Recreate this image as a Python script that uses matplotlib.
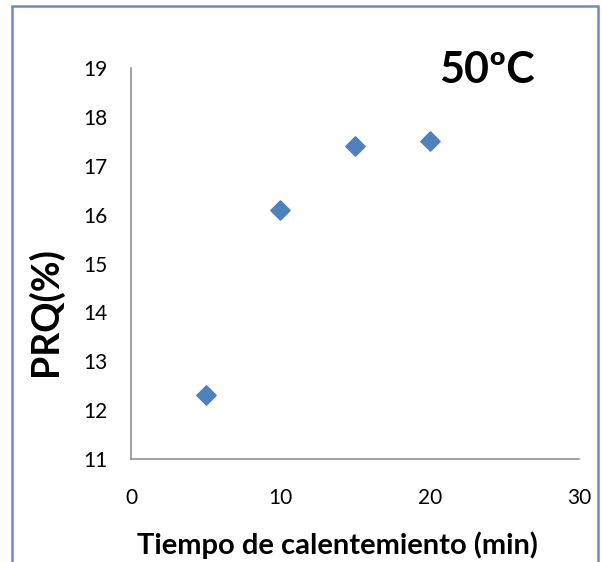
import matplotlib.pyplot as plt
from matplotlib.patches import Rectangle

# datos
tiempo = [5, 10, 15, 20]
prq = [12.3, 16.1, 17.4, 17.5]
xticks = [0, 10, 20, 30]
yticks = [11, 12, 13, 14, 15, 16, 17, 18, 19]

plt.rcParams['font.family'] = ['Lato', 'DejaVu Sans']

fig = plt.figure(figsize=(6.02, 5.62), dpi=100)
ax = fig.add_axes([131/602, 1 - 459/562, (579 - 131)/602, (459 - 68)/562])

ax.plot(tiempo, prq, linestyle='none', marker=(4, 0, 0), markersize=14,
        color='#4F81BD', markeredgecolor='#4F81BD')

ax.set_xlim(0, 30)
ax.set_ylim(11, 19)
ax.set_xticks(xticks)
ax.set_yticks(yticks)
ax.tick_params(length=0, labelsize=15)
ax.tick_params(axis='x', pad=21)
ax.tick_params(axis='y', pad=17)
for s in ['top', 'right']:
    ax.spines[s].set_visible(False)
for s in ['left', 'bottom']:
    ax.spines[s].set_color('#868686')
    ax.spines[s].set_linewidth(1.1)

fig.text(337/602, 1 - 545/562, 'Tiempo de calentemiento (min)', ha='center', va='center',
         fontsize=21, fontweight='bold')
fig.text(45/602, 1 - 312/562, 'PRQ(%)', ha='center', va='center', rotation=90,
         fontsize=27, fontweight='bold')
fig.text(487/602, 1 - 70/562, '50ºC', ha='center', va='center',
         fontsize=31, fontweight='bold')

# borde del grafico
fig.patches.append(Rectangle((12/602, -0.1), (598 - 12)/602, 1.1 - 6/562,
                             transform=fig.transFigure, fill=False,
                             edgecolor='#7088C4', linewidth=1.8, clip_on=False))

fig.savefig('out.png', dpi=100)
